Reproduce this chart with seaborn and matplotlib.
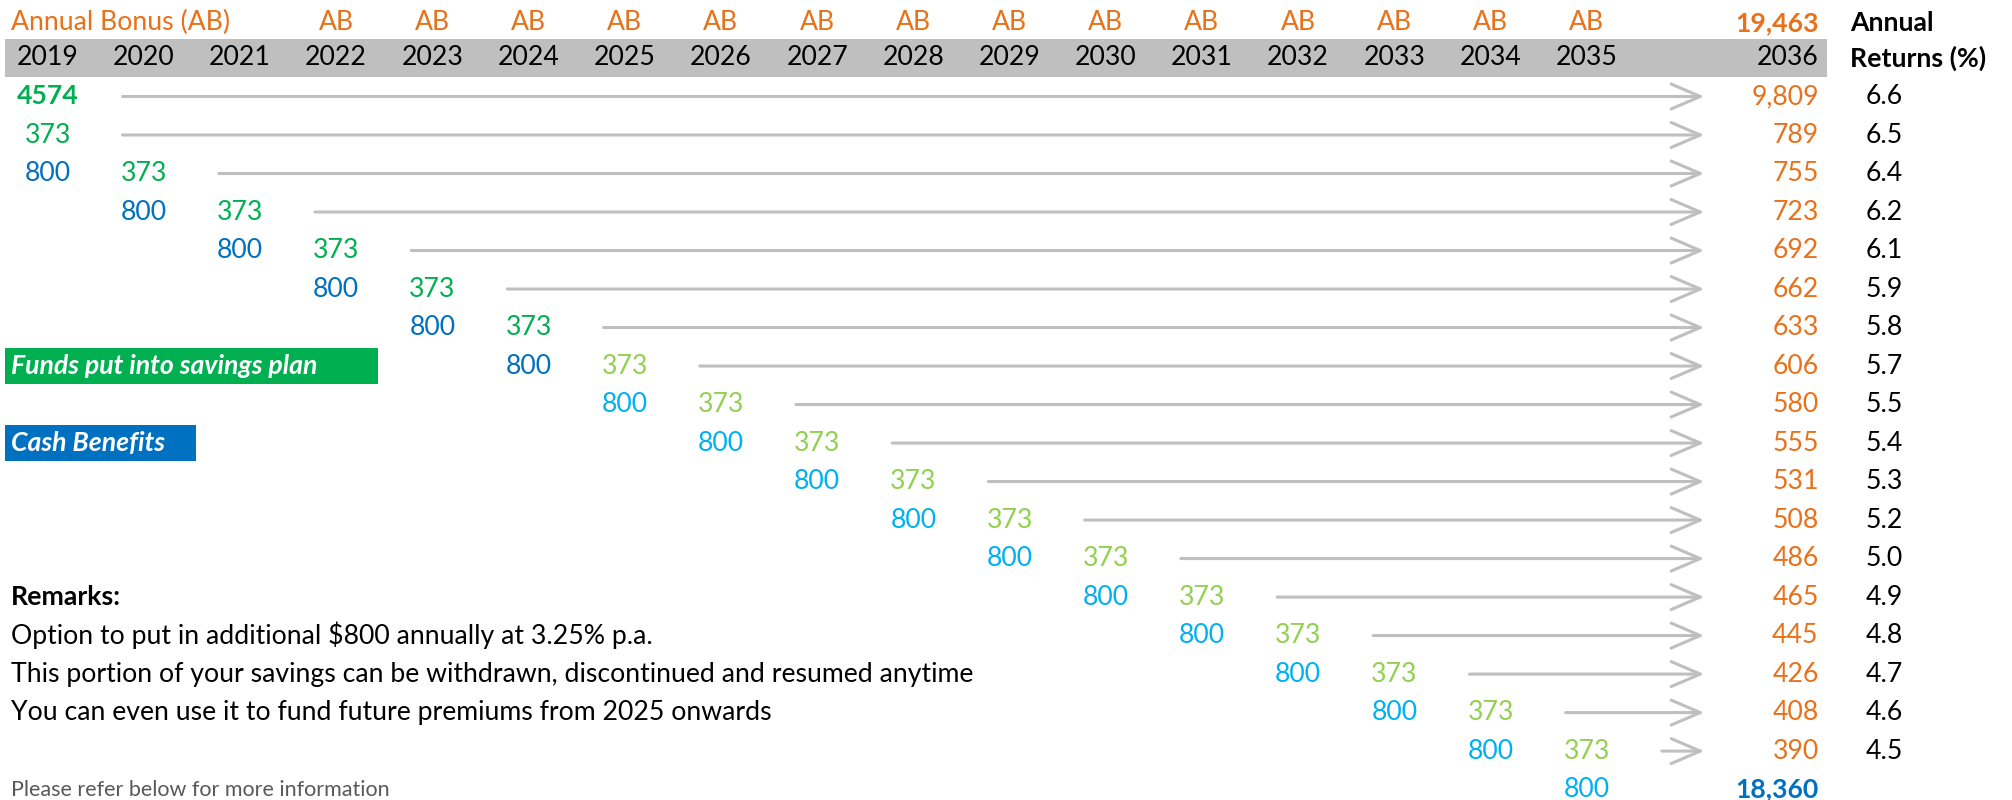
import numpy as np
import seaborn as sns
import matplotlib.pyplot as plt
from matplotlib.patches import Rectangle

# ---- data ----
years = ['2019', '2020', '2021', '2022', '2023', '2024', '2025', '2026', '2027',
         '2028', '2029', '2030', '2031', '2032', '2033', '2034', '2035']
end_year = '2036'
ab_years = ['2022', '2023', '2024', '2025', '2026', '2027', '2028', '2029',
            '2030', '2031', '2032', '2033', '2034', '2035']

# savings plan payments (one per row), year they are put in
savings_values = [4574, 373, 373, 373, 373, 373, 373, 373, 373, 373, 373, 373,
                  373, 373, 373, 373, 373, 373]
savings_years = ['2019', '2019', '2020', '2021', '2022', '2023', '2024', '2025',
                 '2026', '2027', '2028', '2029', '2030', '2031', '2032', '2033',
                 '2034', '2035']
# cash benefits (rows 2..18)
cash_values = [800, 800, 800, 800, 800, 800, 800, 800, 800, 800, 800, 800, 800,
               800, 800, 800, 800]
cash_years = ['2019', '2020', '2021', '2022', '2023', '2024', '2025', '2026',
              '2027', '2028', '2029', '2030', '2031', '2032', '2033', '2034', '2035']

maturity_values = [9809, 789, 755, 723, 692, 662, 633, 606, 580, 555, 531, 508,
                   486, 465, 445, 426, 408, 390]
annual_returns = [6.6, 6.5, 6.4, 6.2, 6.1, 5.9, 5.8, 5.7, 5.5, 5.4, 5.3, 5.2,
                  5.0, 4.9, 4.8, 4.7, 4.6, 4.5]
total_maturity = 19463
total_cash = 18360

remarks = ['Option to put in additional $800 annually at 3.25% p.a.',
           'This portion of your savings can be withdrawn, discontinued and resumed anytime',
           'You can even use it to fund future premiums from 2025 onwards']

# ---- styles ----
ORANGE = '#E8711A'
GREEN = '#00B050'
LGREEN = '#92D050'
BLUE = '#0070C0'
LBLUE = '#00B0F0'
GREY = '#BFBFBF'
FS = 19.2

sns.set_theme(style='white')
plt.rcParams['font.family'] = ['Lato', 'DejaVu Sans']

fig = plt.figure(figsize=(20.12, 8), dpi=100)
ax = fig.add_axes([0, 0, 1, 1])
# x = column index (year), y = row index
ax.set_xlim(-0.494, 20.42)
ax.set_ylim(18.27, -2.506)
ax.axis('off')

col = {y: i for i, y in enumerate(years)}
END_X = 18.41      # right edge of the 2036 column
TIP_X = 17.22      # arrow tips
RET_X = 19.09      # returns column
LEFT_X = -0.38
HDR_Y, YEAR_Y = -1.91, -1.0

# header
ax.add_patch(Rectangle((-0.44, -1.506), 18.94, 0.987, color=GREY, lw=0, zorder=0))
ax.text(LEFT_X, HDR_Y, 'Annual Bonus (AB)', color=ORANGE, fontsize=FS, va='center', ha='left')
for y in ab_years:
    ax.text(col[y], HDR_Y, 'AB', color=ORANGE, fontsize=FS, va='center', ha='center')
for y in years:
    ax.text(col[y], YEAR_Y, y, color='black', fontsize=FS, va='center', ha='center')
ax.text(END_X, YEAR_Y, end_year, color='black', fontsize=FS, va='center', ha='right')
ax.text(END_X, HDR_Y, f'{total_maturity:,}', color=ORANGE, fontsize=FS,
        fontweight='bold', va='center', ha='right')
ax.text(18.74, HDR_Y, 'Annual', color='black', fontsize=FS, fontweight='bold', va='center')
ax.text(18.74, YEAR_Y, 'Returns (%)', color='black', fontsize=FS, fontweight='bold', va='center')

# rows
for r, (v, y) in enumerate(zip(savings_values, savings_years)):
    c = col[y]
    if r == 0:
        ax.text(c, r, str(v), color=GREEN, fontsize=FS, fontweight='bold', va='center', ha='center')
    else:
        ax.text(c, r, str(v), color=GREEN if c < 6 else LGREEN, fontsize=FS,
                va='center', ha='center')
    ax.annotate('', xy=(TIP_X, r), xytext=(c + 0.78, r),
                arrowprops=dict(arrowstyle='->, head_length=1.05, head_width=0.45',
                                mutation_scale=20, color=GREY, lw=2.2,
                                shrinkA=0, shrinkB=0))
    ax.text(END_X, r, f'{maturity_values[r]:,}', color=ORANGE, fontsize=FS,
            va='center', ha='right')
    ax.text(RET_X, r, f'{annual_returns[r]:.1f}', color='black', fontsize=FS,
            va='center', ha='center')

for i, (v, y) in enumerate(zip(cash_values, cash_years)):
    c = col[y]
    ax.text(c, i + 2, str(v), color=BLUE if c < 6 else LBLUE, fontsize=FS,
            va='center', ha='center')
ax.text(END_X, 18, f'{total_cash:,}', color=BLUE, fontsize=FS, fontweight='bold',
        va='center', ha='right')

# legend boxes
ax.add_patch(Rectangle((-0.44, 6.53), 3.88, 0.94, color=GREEN, lw=0, zorder=0))
ax.text(LEFT_X, 7, 'Funds put into savings plan', color='white', fontsize=FS,
        fontweight='bold', fontstyle='italic', va='center', ha='left')
ax.add_patch(Rectangle((-0.44, 8.53), 1.98, 0.94, color=BLUE, lw=0, zorder=0))
ax.text(LEFT_X, 9, 'Cash Benefits', color='white', fontsize=FS,
        fontweight='bold', fontstyle='italic', va='center', ha='left')

# remarks
ax.text(LEFT_X, 13, 'Remarks:', color='black', fontsize=FS, fontweight='bold', va='center')
for i, line in enumerate(remarks):
    ax.text(LEFT_X, 14 + i, line, color='black', fontsize=FS, va='center')
ax.text(LEFT_X, 18, 'Please refer below for more information', color='#595959',
        fontsize=15.5, va='center')

fig.savefig('out.png', dpi=100)
